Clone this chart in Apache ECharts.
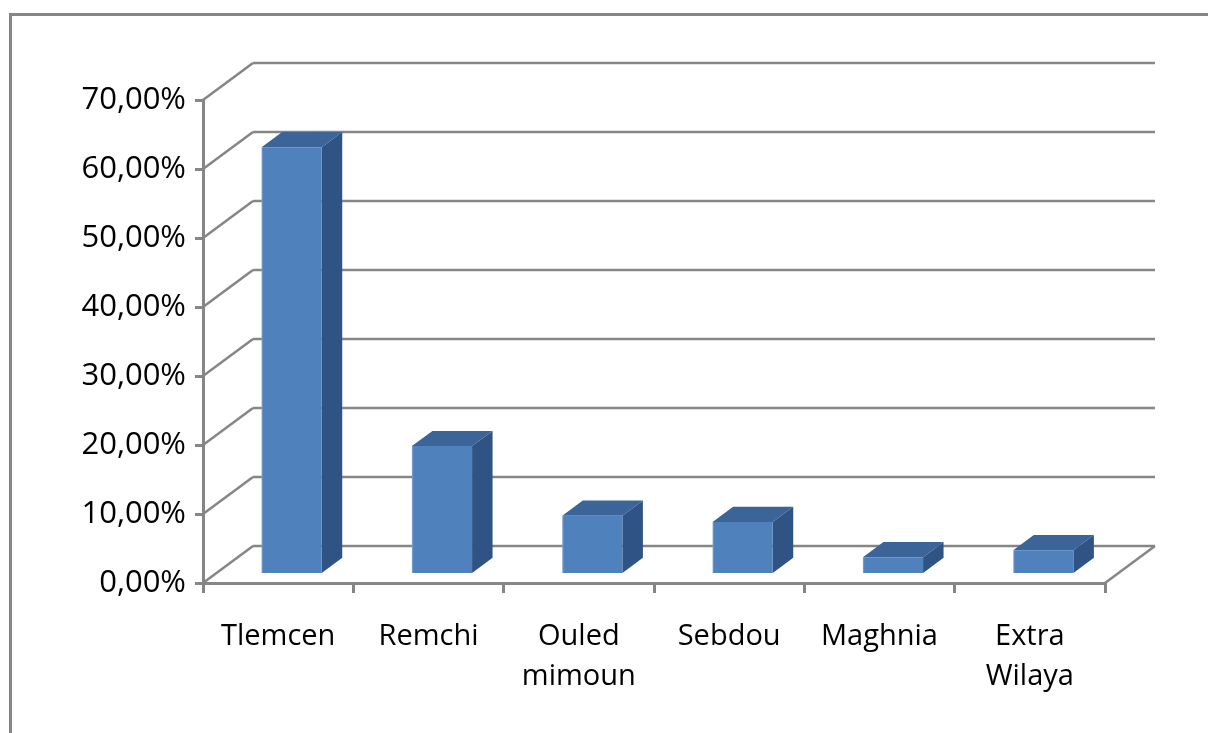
<!DOCTYPE html>
<html>
<head>
<meta charset="utf-8">
<script src="https://cdn.jsdelivr.net/npm/echarts@6/dist/echarts.min.js"></script>
<style>
  html, body { margin: 0; padding: 0; background: #ffffff; }
  #chart { width: 1208px; height: 733px; }
</style>
</head>
<body>
<div id="chart"></div>
<script>
// Share of cases by commune of origin
const categories = ['Tlemcen', 'Remchi', 'Ouled\nmimoun', 'Sebdou', 'Maghnia', 'Extra\nWilaya'];
const shares = [0.617, 0.184, 0.083, 0.074, 0.023, 0.033];
const yTicks = [0, 0.1, 0.2, 0.3, 0.4, 0.5, 0.6, 0.7];

// oblique depth of the 3D box (pixels) and where columns sit inside it
const DEPTH_X = 50, DEPTH_Y = -37;
const COL_FRONT = 0.27, COL_BACK = 0.68, COL_WIDTH = 0.4;
const GRID_COLOR = '#868686';
const FONT = '"Open Sans", "Liberation Sans", sans-serif';

const chart = echarts.init(document.getElementById('chart'), null, { renderer: 'canvas' });

function fmtPct(v) {
  return (v * 100).toFixed(2).replace('.', ',') + '%';
}

// back wall gridlines + diagonals joining them to the value axis
function renderWall(params, api) {
  const v = api.value(0);
  const cs = params.coordSys;
  const p = api.coord([0, v]);
  const y = p[1];
  const x0 = cs.x, x1 = cs.x + cs.width;
  const children = [
    { type: 'line', shape: { x1: x0, y1: y, x2: x0 + DEPTH_X, y2: y + DEPTH_Y },
      style: { stroke: GRID_COLOR, lineWidth: 2.5 } },
    { type: 'line', shape: { x1: x0 + DEPTH_X, y1: y + DEPTH_Y, x2: x1 + DEPTH_X, y2: y + DEPTH_Y },
      style: { stroke: GRID_COLOR, lineWidth: 2.5 } }
  ];
  if (v === 0) {
    children.push({ type: 'line', shape: { x1: x1, y1: y, x2: x1 + DEPTH_X, y2: y + DEPTH_Y },
      style: { stroke: GRID_COLOR, lineWidth: 2.5 } });
  }
  return { type: 'group', children: children };
}

// 3D column: front face, top face, right side face
function renderColumn(params, api) {
  const idx = api.value(0);
  const val = api.value(1);
  const top = api.coord([idx, val]);
  const base = api.coord([idx, 0]);
  const band = api.size([1, 0])[0];
  const w = band * COL_WIDTH;
  const fx = DEPTH_X * COL_FRONT, fy = DEPTH_Y * COL_FRONT;
  const bx = DEPTH_X * COL_BACK, by = DEPTH_Y * COL_BACK;
  const dx = bx - fx, dy = by - fy;
  const xl = top[0] - w / 2 + fx, xr = top[0] + w / 2 + fx;
  const yt = top[1] + fy, yb = base[1] + fy;
  return {
    type: 'group',
    children: [
      { type: 'polygon', shape: { points: [[xr, yt], [xr + dx, yt + dy], [xr + dx, yb + dy], [xr, yb]] },
        style: { fill: '#2F5384' } },
      { type: 'polygon', shape: { points: [[xl, yt], [xl + dx, yt + dy], [xr + dx, yt + dy], [xr, yt]] },
        style: { fill: '#3B6498' } },
      { type: 'rect', shape: { x: xl, y: yt, width: w, height: yb - yt },
        style: { fill: new echarts.graphic.LinearGradient(0, 0, 1, 0, [
          { offset: 0, color: '#7FA3D0' }, { offset: 0.03, color: '#4F81BD' }, { offset: 1, color: '#4F81BD' }
        ]) } }
    ]
  };
}

const option = {
  backgroundColor: '#ffffff',
  animation: false,
  graphic: [
    { type: 'polyline', shape: { points: [[10.5, 740], [10.5, 14.5], [1220, 14.5]] },
      style: { stroke: GRID_COLOR, lineWidth: 3, fill: null } }
  ],
  grid: { left: 203, top: 100, width: 902, height: 483, containLabel: false },
  xAxis: {
    type: 'category',
    data: categories,
    boundaryGap: true,
    axisLine: { show: true, lineStyle: { color: GRID_COLOR, width: 3 } },
    axisTick: { show: true, length: 10, lineStyle: { color: GRID_COLOR, width: 3 } },
    axisLabel: { color: '#000', fontFamily: FONT, fontSize: 29, lineHeight: 40, margin: 34, interval: 0 },
    splitLine: { show: false }
  },
  yAxis: {
    type: 'value',
    min: 0, max: 0.7, interval: 0.1,
    axisLine: { show: true, lineStyle: { color: GRID_COLOR, width: 3 } },
    axisTick: { show: true, length: 8, lineStyle: { color: GRID_COLOR, width: 3 } },
    axisLabel: { color: '#000', fontFamily: FONT, fontSize: 31, margin: 17, formatter: fmtPct },
    splitLine: { show: false }
  },
  series: [
    {
      type: 'custom',
      name: 'wall',
      renderItem: renderWall,
      data: yTicks.map(v => [v]),
      encode: { y: 0 },
      silent: true,
      z: 1
    },
    {
      type: 'custom',
      name: 'share',
      renderItem: renderColumn,
      data: shares.map((v, i) => [i, v]),
      encode: { x: 0, y: 1 },
      z: 3
    }
  ]
};

chart.setOption(option);
</script>
</body>
</html>
